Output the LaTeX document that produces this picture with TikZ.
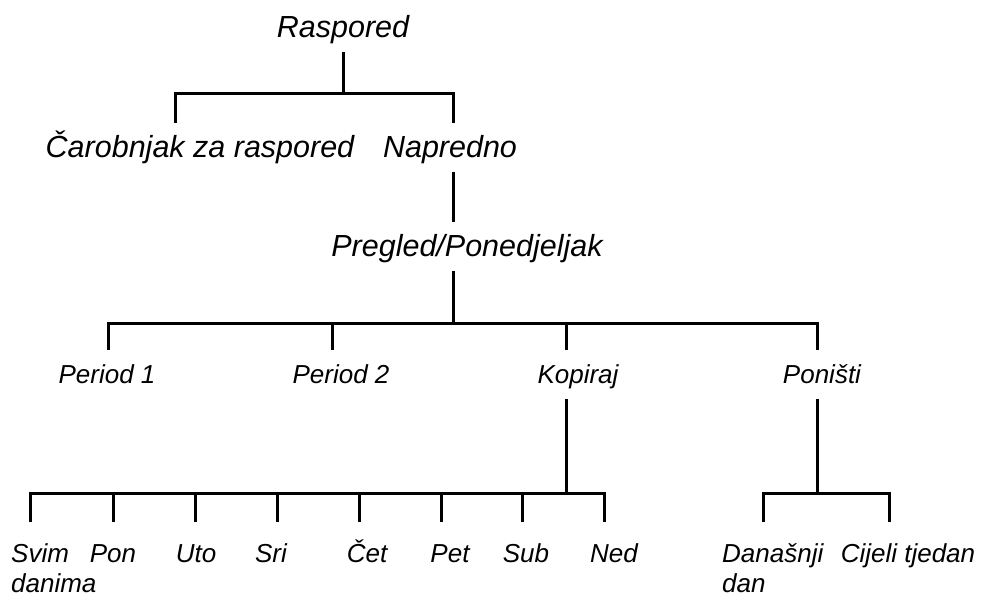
\documentclass[tikz,border=0pt]{standalone}
\usepackage{fontspec}
\setmainfont{Liberation Sans}
\usepackage{tikz}
\usetikzlibrary{calc,positioning}

\begin{document}
\begin{tikzpicture}[x=1pt, y=-1pt,
    top_label/.style={font=\fontsize{30.5}{36}\selectfont\itshape, inner sep=0pt,
      text height=22pt, text depth=7pt, anchor=base},
    low_label/.style={font=\fontsize{26}{30.5}\selectfont\itshape, inner sep=0pt,
      text height=18.5pt, text depth=6pt, anchor=base},
    link/.style={line width=3pt, black},
  ]
  \useasboundingbox (0,0) rectangle (987,598);

  % --- Root and first level ---
  \node[top_label] (raspored) at (343,37) {Raspored};
  \node[top_label] (carobnjak) at (200,157) {Čarobnjak za raspored};
  \node[top_label] (napredno) at (450,157) {Napredno};

  % --- Second level ---
  \node[top_label] (pregled) at (467,256) {Pregled/Ponedjeljak};

  % --- Third level ---
  \node[low_label] (period1) at (107,383) {Period 1};
  \node[low_label] (period2) at (341,383) {Period 2};
  \node[low_label] (kopiraj) at (578,383) {Kopiraj};
  \node[low_label] (ponisti) at (822,383) {Poništi};

  % --- Days ---
  \node[low_label, anchor=base west] (svim) at (11,562)
    {\begin{tabular}[t]{@{}l@{}}Svim\\danima\end{tabular}};
  \node[low_label] (pon) at (113,562) {Pon};
  \node[low_label] (uto) at (196,562) {Uto};
  \node[low_label] (sri) at (271,562) {Sri};
  \node[low_label] (cet) at (367,562) {Čet};
  \node[low_label] (pet) at (450,562) {Pet};
  \node[low_label] (sub) at (526,562) {Sub};
  \node[low_label] (ned) at (614,562) {Ned};

  % --- Undo choices ---
  \node[low_label, anchor=base west] (danasnji) at (722,562)
    {\begin{tabular}[t]{@{}l@{}}Današnji\\dan\end{tabular}};
  \node[low_label] (cijeli) at (908,562) {Cijeli tjedan};

  % --- Raspored -> first level ---
  \draw[link, shorten <=8pt, shorten >=12pt] (raspored.south) -- ++(0,49) -| ([xshift=-25pt]carobnjak.north);
  \draw[link, shorten <=8pt, shorten >=12pt] (raspored.south) -- ++(0,49) -| ([xshift=3pt]napredno.north);

  % --- Napredno -> Pregled ---
  \draw[link, shorten <=8pt, shorten >=12pt] ([xshift=3pt]napredno.south) -- ([xshift=-14pt]pregled.north);

  % --- Pregled -> third level ---
  \draw[link, shorten <=8pt, shorten >=14pt] ([xshift=-14pt]pregled.south) -- ++(0,60) -| ([xshift=1pt]period1.north);
  \draw[link, shorten <=8pt, shorten >=14pt] ([xshift=-14pt]pregled.south) -- ++(0,60) -| ([xshift=-9pt]period2.north);
  \draw[link, shorten <=8pt, shorten >=14pt] ([xshift=-14pt]pregled.south) -- ++(0,60) -| ([xshift=-12pt]kopiraj.north);
  \draw[link, shorten <=8pt, shorten >=14pt] ([xshift=-14pt]pregled.south) -- ++(0,60) -| ([xshift=-5pt]ponisti.north);

  % --- Kopiraj -> days ---
  \draw[link, shorten <=10pt, shorten >=21pt] ([xshift=-12pt]kopiraj.south) -- ++(0,104) -| ([xshift=-23pt]svim.north);
  \draw[link, shorten <=10pt, shorten >=21pt] ([xshift=-12pt]kopiraj.south) -- ++(0,104) -| ([xshift=0pt]pon.north);
  \draw[link, shorten <=10pt, shorten >=21pt] ([xshift=-12pt]kopiraj.south) -- ++(0,104) -| ([xshift=-1pt]uto.north);
  \draw[link, shorten <=10pt, shorten >=21pt] ([xshift=-12pt]kopiraj.south) -- ++(0,104) -| ([xshift=6pt]sri.north);
  \draw[link, shorten <=10pt, shorten >=21pt] ([xshift=-12pt]kopiraj.south) -- ++(0,104) -| ([xshift=-8pt]cet.north);
  \draw[link, shorten <=10pt, shorten >=21pt] ([xshift=-12pt]kopiraj.south) -- ++(0,104) -| ([xshift=-9pt]pet.north);
  \draw[link, shorten <=10pt, shorten >=21pt] ([xshift=-12pt]kopiraj.south) -- ++(0,104) -| ([xshift=-4pt]sub.north);
  \draw[link, shorten <=10pt, shorten >=21pt] ([xshift=-12pt]kopiraj.south) -- ++(0,104) -| ([xshift=-10pt]ned.north);

  % --- Poništi -> undo choices ---
  \draw[link, shorten <=10pt, shorten >=21pt] ([xshift=-5pt]ponisti.south) -- ++(0,104) -| ([xshift=-9.5pt]danasnji.north);
  \draw[link, shorten <=10pt, shorten >=21pt] ([xshift=-5pt]ponisti.south) -- ++(0,104) -| ([xshift=-19pt]cijeli.north);
\end{tikzpicture}
\end{document}
